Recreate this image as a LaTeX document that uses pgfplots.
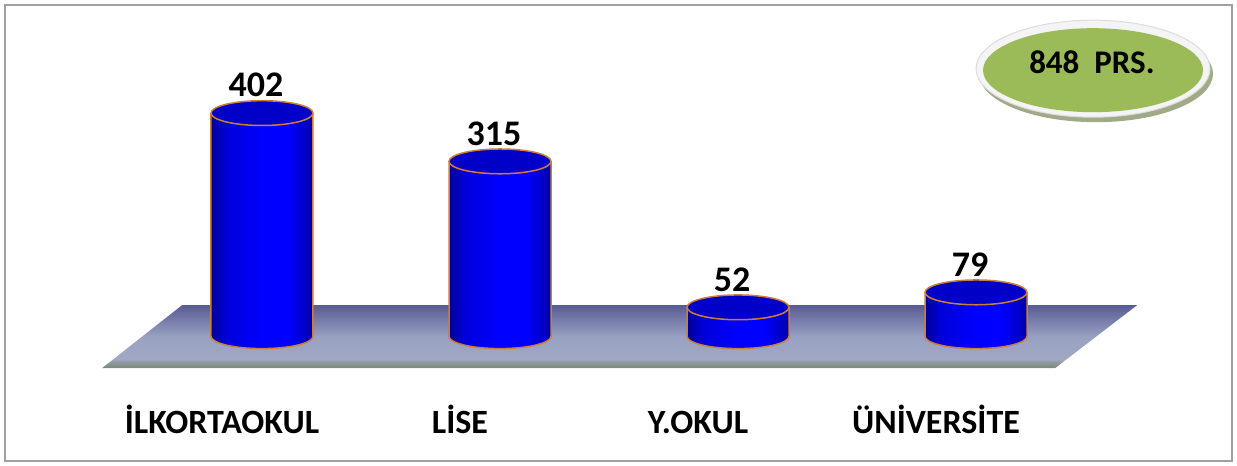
\documentclass[border=0pt]{standalone}
\usepackage{pgfplots}
\pgfplotsset{compat=1.18}
\usepackage{pgfplotstable}
\usepackage{fontspec}
\setmainfont{Carlito}
\definecolor{cylEdge}{RGB}{205,125,55}
\definecolor{cylTop}{RGB}{0,0,200}
\definecolor{badgeGreen}{RGB}{155,187,89}
\definecolor{rimGray}{RGB}{244,244,244}
\definecolor{rimEdge}{RGB}{220,220,220}
\definecolor{shadowCol}{RGB}{160,170,135}
\definecolor{frameGray}{RGB}{160,160,160}

\pgfdeclarehorizontalshading{cylshade}{100bp}{rgb(0bp)=(0,0,0.6); rgb(25bp)=(0,0,0.6); rgb(33bp)=(0,0,0.86); rgb(50bp)=(0,0,1); rgb(63bp)=(0,0,1); rgb(75bp)=(0,0,0.66); rgb(100bp)=(0,0,0.66)}
\pgfdeclareverticalshading{floorshade}{100bp}{rgb(0bp)=(0.47,0.54,0.47); rgb(25bp)=(0.47,0.54,0.47); rgb(30bp)=(0.56,0.60,0.62); rgb(32bp)=(0.63,0.66,0.77); rgb(50bp)=(0.60,0.63,0.76); rgb(75bp)=(0.35,0.36,0.58); rgb(100bp)=(0.35,0.36,0.58)}

\newcommand{\drawcyl}[2]{%
  \path[shade, shading=cylshade] ([xshift=-25.5pt]axis cs:#1,#2) -- ([xshift=-25.5pt]axis cs:#1,0) arc[start angle=180, end angle=360, x radius=25.5pt, y radius=6.2pt] -- ([xshift=25.5pt]axis cs:#1,#2) -- cycle;
  \draw[cylEdge, line width=0.75pt] ([xshift=-25.5pt]axis cs:#1,#2) -- ([xshift=-25.5pt]axis cs:#1,0) arc[start angle=180, end angle=360, x radius=25.5pt, y radius=6.2pt] -- ([xshift=25.5pt]axis cs:#1,#2);
  \filldraw[fill=cylTop, draw=cylEdge, line width=0.75pt] (axis cs:#1,#2) ellipse[x radius=25.5pt, y radius=6.2pt];
}

\pgfplotstableread{
x v
0 402
1 315
2 52
3 79
}\datatable

\begin{document}
\begin{tikzpicture}
\begin{axis}[
  scale only axis,
  width=618.5pt, height=232.5pt,
  xmin=-1.1008, xmax=4.0966,
  ymin=-232.4, ymax=605.4,
  clip=false,
  axis line style={draw=none},
  major tick length=0pt,
  ytick=\empty,
  xtick={0,1,2,3},
  xticklabels={İLKORTAOKUL, LİSE, Y.OKUL, ÜNİVERSİTE},
  xticklabel style={anchor=base, yshift=16pt, xshift=-20pt, font=\bfseries\fontsize{17}{19}\selectfont},
  /pgf/number format/assume math mode=true,
]
% frame
\draw[frameGray, line width=0.9pt] (axis cs:-1.0798,596.4) rectangle (axis cs:4.0756,-225.2);
% floor
\addplot[draw=none, shade, shading=floorshade, forget plot] coordinates {(-0.3361,55.86) (3.6765,55.86) (3.3319,-57.66) (-0.6723,-57.66)};
% cylinders, read from the table
\pgfplotsinvokeforeach{0,1,2,3}{%
  \pgfplotstablegetelem{#1}{v}\of\datatable
  \edef\doit{\noexpand\drawcyl{#1}{\pgfplotsretval}}\doit
}
% value labels
\addplot[draw=none, mark=none,
  nodes near coords,
  nodes near coords style={font=\bfseries\fontsize{18}{20}\selectfont, anchor=center, yshift=14pt, xshift=-3pt, text=black}] table[x=x,y=v]{\datatable};
% badge
\fill[shadowCol] ([xshift=1.5pt,yshift=-2.5pt]axis cs:3.4916,482.0) ellipse[x radius=58.5pt, y radius=24.25pt];
\filldraw[fill=rimGray, draw=rimEdge, line width=0.5pt] (axis cs:3.4916,482.0) ellipse[x radius=58.5pt, y radius=24.25pt];
\fill[badgeGreen] (axis cs:3.4916,479.3) ellipse[x radius=55pt, y radius=21pt];
\node[font=\bfseries\fontsize{16.5}{18}\selectfont] at (axis cs:3.487,493.7) {848\ \ PRS.};
\end{axis}
\end{tikzpicture}
\end{document}
